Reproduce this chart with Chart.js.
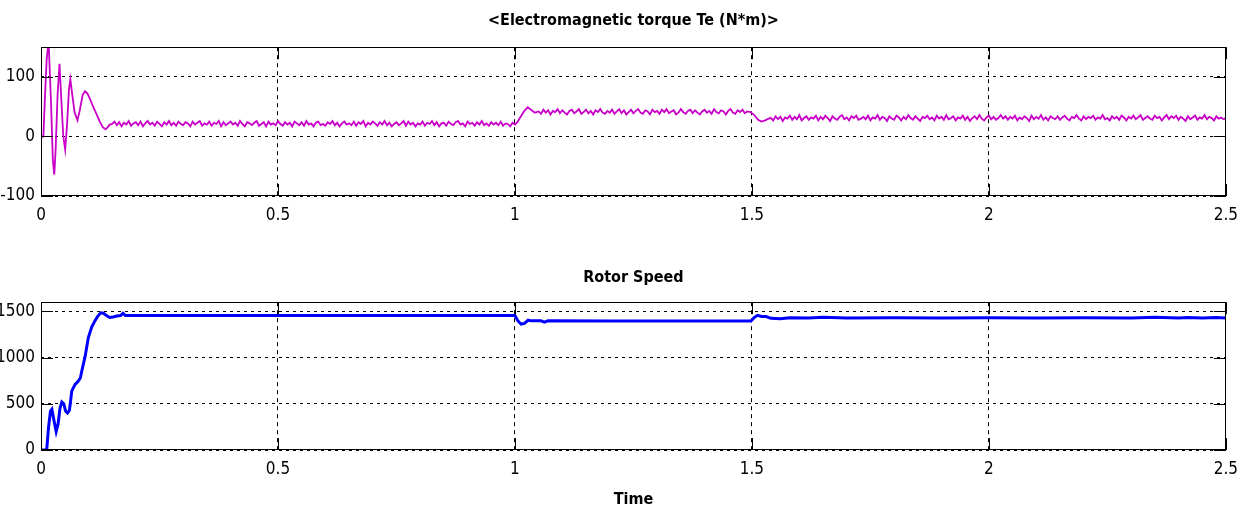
<!DOCTYPE html>
<html><head><meta charset="utf-8">
<script src="https://cdn.jsdelivr.net/npm/chart.js@4"></script>
<style>
html,body{margin:0;padding:0;background:#fff;width:1247px;height:512px;overflow:hidden}
canvas{position:absolute;left:0}
#c1{top:0}#c2{top:240px}
</style></head><body>
<canvas id="c1" width="1247" height="240"></canvas>
<canvas id="c2" width="1247" height="272"></canvas>
<script>
// ---------- DATA ----------
const xTicks = [0, 0.5, 1, 1.5, 2, 2.5];
const torqueTicks = [-100, 0, 100];
const speedTicks = [0, 500, 1000, 1500];

// torque start-up transient (time, value)
const torqueStartT = [0,0.005,0.008,0.012,0.016,0.021,0.025,0.028,0.031,0.035,0.039,0.043,0.047,0.051,0.055,0.059,0.062,0.066,0.071,0.077,0.082,0.088,0.093,0.098,0.104,0.11,0.117,0.124,0.13,0.136,0.14,0.145];
const torqueStartV = [0,0,60,130,160,60,-40,-64,-20,70,122,60,0,-22,20,80,96,70,40,27,45,70,76,72,62,50,38,25,16,12,15,20];
// steady ripple 0.150 .. 1.000, step 0.005
const torqueRipple1 = [21,25,19,24,17,23,20,26,18,22,
 24,19,25,17,22,26,20,23,18,25,
 21,17,24,20,26,19,23,18,25,21,
 19,24,22,17,25,20,23,26,18,22,
 20,25,18,23,21,26,17,24,19,22,
 25,20,23,18,26,21,17,24,22,19,
 23,26,18,21,24,17,25,20,22,19,
 26,21,18,24,20,23,17,25,22,19,
 24,18,26,20,22,17,23,25,19,21,
 18,24,21,26,19,23,17,22,25,20,
 22,19,25,18,24,21,26,17,23,20,
 25,22,18,24,20,26,19,23,17,21,
 24,19,22,26,18,25,20,23,17,22,
 20,25,18,23,21,26,19,24,17,22,
 23,18,25,21,19,24,26,20,22,17,
 25,21,23,18,24,20,26,19,22,18,
 24,20,23,19,25,18,22,21,17,23,
 20];
// load step at t = 1
const torqueStep1T = [1.005,1.012,1.02,1.027,1.034,1.042];
const torqueStep1V = [24,33,43,49,45,40];
// steady ripple 1.050 .. 1.490, step 0.005
const torqueRipple2 = [42,38,45,40,44,37,43,41,46,39,
 44,40,37,43,45,39,42,46,38,41,
 45,39,43,37,44,41,46,40,38,43,
 40,45,38,42,46,39,44,37,41,45,
 39,43,46,40,38,44,42,37,45,41,
 43,38,45,41,46,39,42,44,37,40,
 46,41,38,43,45,39,44,40,37,42,
 45,40,43,38,46,41,39,44,42,37,
 43,46,40,38,44,41,45,39,42];
// load step at t = 1.5
const torqueStep2T = [1.497,1.505,1.513,1.52,1.528,1.535];
const torqueStep2V = [41,36,28,25,27,30];
// steady ripple 1.540 .. 2.500, step 0.005
const torqueRipple3 = [31,27,34,29,33,26,32,30,35,28,
 33,29,36,27,31,34,28,32,30,35,
 27,33,29,35,31,26,34,30,28,33,
 36,29,32,27,34,31,35,28,30,33,
 29,35,27,32,30,36,28,33,31,26,
 34,30,28,35,32,27,33,29,36,31,
 28,34,30,26,33,31,35,29,32,27,
 35,30,33,28,36,29,31,34,27,32,
 30,35,28,33,26,31,34,29,36,30,
 27,32,35,29,33,28,31,36,30,34,
 28,33,30,35,27,32,29,34,31,26,
 35,29,33,30,36,28,32,27,34,31,
 29,34,28,32,35,30,27,33,31,36,
 30,27,34,29,33,31,35,28,32,30,
 36,29,31,27,34,30,33,28,35,32,
 27,33,30,35,29,32,36,28,31,34,
 30,28,35,31,33,27,32,36,29,34,
 31,35,28,33,30,26,34,29,32,35,
 28,32,30,36,29,33,31,27,34,30,
 32,29,31];

// rotor speed (time, value)
const speedT = [0,0.012,0.016,0.02,0.023,0.027,0.032,0.036,0.04,0.044,0.048,0.052,0.056,0.06,0.065,0.072,0.078,0.083,0.088,0.093,0.1,0.107,0.114,0.12,0.126,0.132,0.138,0.145,0.152,0.16,0.168,0.173,0.178,0.19,0.5,1.0,1.006,1.013,1.02,1.028,1.035,1.045,1.055,1.062,1.07,1.2,1.498,1.505,1.512,1.52,1.53,1.54,1.56,1.58,1.62,1.65,1.7,1.8,1.9,2.0,2.1,2.2,2.3,2.35,2.4,2.42,2.45,2.48,2.5];
const speedV = [0,0,250,420,440,330,200,280,450,520,500,420,400,430,640,710,740,780,900,1010,1220,1330,1400,1450,1485,1480,1455,1435,1440,1450,1455,1480,1455,1455,1455,1455,1400,1362,1370,1405,1398,1400,1398,1385,1398,1397,1397,1435,1458,1445,1445,1425,1422,1432,1430,1436,1430,1432,1430,1431,1430,1432,1430,1436,1429,1434,1430,1435,1430];

// ---------- BUILD ----------
function pairs(ts, vs){ return ts.map((t,i)=>({x:t,y:vs[i]})); }
function run(t0, dt, vs){ return vs.map((v,i)=>({x:+(t0+i*dt).toFixed(4), y:v})); }
const torqueData = [].concat(
  pairs(torqueStartT, torqueStartV),
  run(0.15, 0.005, torqueRipple1),
  pairs(torqueStep1T, torqueStep1V),
  run(1.05, 0.005, torqueRipple2),
  pairs(torqueStep2T, torqueStep2V),
  run(1.54, 0.005, torqueRipple3)
);
const speedData = pairs(speedT, speedV);

const FONT = "'DejaVu Sans Condensed','Liberation Sans Narrow','Arial Narrow',sans-serif";

const boxPlugin = {
  id: 'box',
  beforeLayout(chart){ try { chart.ctx.fontStretch = 'condensed'; } catch(e){} },
  beforeDraw(chart){ try { chart.ctx.fontStretch = 'condensed'; } catch(e){} },
  afterDraw(chart){
    const {ctx, chartArea:a, scales} = chart;
    ctx.save();
    ctx.strokeStyle = '#000';
    ctx.lineWidth = 1;
    ctx.strokeRect(Math.round(a.left)+0.5, Math.round(a.top)+0.5, Math.round(a.right-a.left)-1, Math.round(a.bottom-a.top)-1);
    const L = 12;
    ctx.beginPath();
    scales.x.ticks.forEach(tk=>{
      const px = Math.round(scales.x.getPixelForValue(tk.value))+0.5;
      ctx.moveTo(px, a.bottom); ctx.lineTo(px, a.bottom-L);
      ctx.moveTo(px, a.top); ctx.lineTo(px, a.top+L);
    });
    scales.y.ticks.forEach(tk=>{
      const py = Math.round(scales.y.getPixelForValue(tk.value))+0.5;
      ctx.moveTo(a.left, py); ctx.lineTo(a.left+L, py);
      ctx.moveTo(a.right, py); ctx.lineTo(a.right-L, py);
    });
    ctx.stroke();
    ctx.restore();
  }
};

function makeChart(id, data, color, width, yMin, yMax, yTicks, title, xHeight, titlePad, xTitle){
  return new Chart(document.getElementById(id), {
    type: 'line',
    data: { datasets: [{ data, borderColor: color, borderWidth: width, pointRadius: 0, tension: 0, fill: false }] },
    options: {
      responsive: false,
      animation: false,
      layout: { padding: { left: 0, right: 20, top: 0, bottom: 0 } },
      plugins: {
        legend: { display: false },
        tooltip: { enabled: false },
        title: { display: true, text: title, color: '#000', fullSize: false,
          font: { family: FONT, size: 16, weight: 'bold' }, padding: titlePad }
      },
      scales: {
        x: {
          type: 'linear', min: 0, max: 2.5,
          afterBuildTicks: s => { s.ticks = xTicks.map(v=>({value:v})); },
          afterFit: s => { s.height = xHeight; },
          grid: { color: '#000', lineWidth: 1, drawTicks: false },
          border: { display: false, dash: [4,4] },
          ticks: { color: '#000', padding: 9, font: { family: FONT, size: 17 }, maxRotation: 0,
            callback: v => String(v) },
          title: xTitle ? { display: true, text: xTitle, color: '#000',
            font: { family: FONT, size: 16, weight: 'bold' }, padding: { top: 0, bottom: 3 } } : { display: false }
        },
        y: {
          type: 'linear', min: yMin, max: yMax,
          afterBuildTicks: s => { s.ticks = yTicks.map(v=>({value:v})); },
          afterFit: s => { s.width = 41; },
          grid: { color: '#000', lineWidth: 1, drawTicks: false },
          border: { display: false, dash: [3,4] },
          ticks: { color: '#000', padding: 6, font: { family: FONT, size: 17 }, callback: v => String(v) }
        }
      }
    },
    plugins: [boxPlugin]
  });
}

makeChart('c1', torqueData, '#C800C8', 1.8, -100, 150, torqueTicks,
  '<Electromagnetic torque Te (N*m)>', 44, { top: 11, bottom: 17 }, null);
makeChart('c2', speedData, '#0000FF', 3, 0, 1600, speedTicks,
  'Rotor Speed', 62, { top: 28, bottom: 15 }, 'Time');
</script>
</body></html>
